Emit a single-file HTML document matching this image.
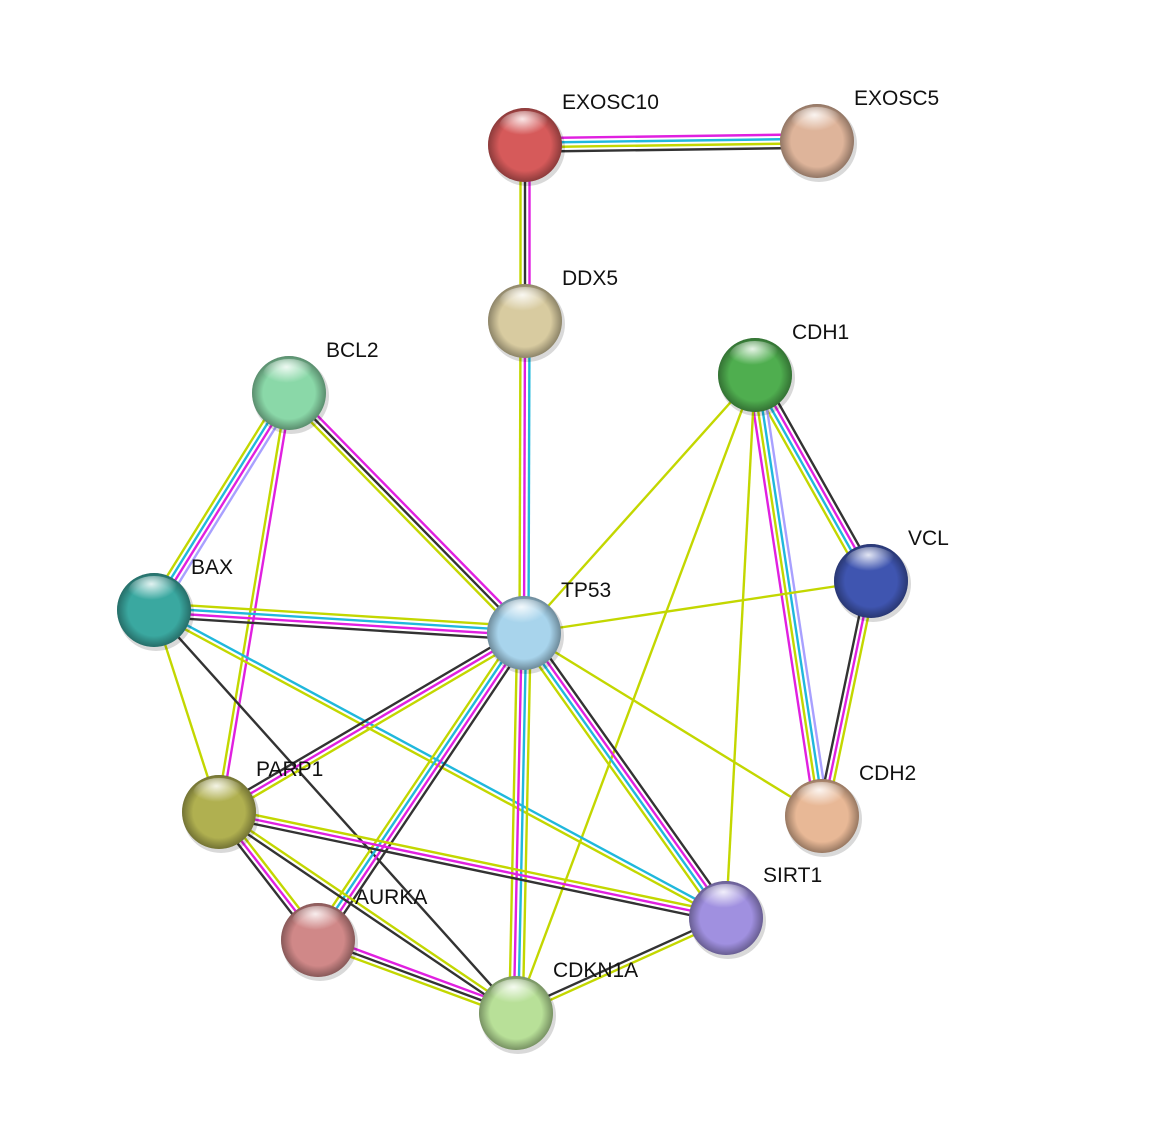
<!DOCTYPE html>
<html><head><meta charset="utf-8"><style>
html,body{margin:0;padding:0;background:#fff;width:1150px;height:1145px;overflow:hidden}
text{font-family:"Liberation Sans",sans-serif;font-size:21px;fill:#111}
</style></head><body>
<svg id="s" width="1150" height="1145" xmlns="http://www.w3.org/2000/svg">
<defs>
<radialGradient id="hl" cx="0.45" cy="0.25" r="0.5"><stop offset="0" stop-color="#fff" stop-opacity="0.85"/><stop offset="1" stop-color="#fff" stop-opacity="0"/></radialGradient>
<radialGradient id="sh" cx="0.5" cy="0.5" r="0.5"><stop offset="0.7" stop-color="#000" stop-opacity="0"/><stop offset="1" stop-color="#000" stop-opacity="0.35"/></radialGradient>
</defs>
<g id="e"></g><g id="n"></g>
</svg>
<script>
var N={EXOSC10:[525,145,'#d65a5a'],EXOSC5:[817,141,'#deb49a'],DDX5:[525,321,'#d8cba0'],BCL2:[289,393,'#8ad8a8'],CDH1:[755,375,'#4fae4f'],BAX:[154,610,'#3aa8a0'],TP53:[524,633,'#a8d4ec'],VCL:[871,581,'#3f55b0'],PARP1:[219,812,'#b0b050'],CDH2:[822,816,'#e8b896'],SIRT1:[726,918,'#a090e0'],AURKA:[318,940,'#d08888'],CDKN1A:[516,1013,'#b8e098']};
var L='#c3d700',M='#e020e0',C='#20b8dc',K='#333',P='#a8a0ff';
var E=[['EXOSC10','EXOSC5',[M,C,L,K]],['EXOSC10','DDX5',[M,K,L]],['DDX5','TP53',[C,M,L]],['BCL2','TP53',[M,K,L]],['BCL2','BAX',[P,M,C,L]],['BCL2','PARP1',[M,L]],['CDH1','TP53',[L]],['CDH1','VCL',[K,M,C,L]],['CDH1','CDH2',[P,C,L,M]],['CDH1','CDKN1A',[L]],['CDH1','SIRT1',[L]],['VCL','TP53',[L]],['VCL','CDH2',[L,M,K]],['BAX','TP53',[L,C,M,K]],['BAX','PARP1',[L]],['BAX','CDKN1A',[K]],['BAX','SIRT1',[C,L]],['TP53','PARP1',[L,M,K]],['TP53','AURKA',[K,M,C,L]],['TP53','CDKN1A',[L,C,M,L]],['TP53','SIRT1',[K,M,C,L]],['TP53','CDH2',[L]],['PARP1','SIRT1',[L,M,K]],['PARP1','AURKA',[L,M,K]],['PARP1','CDKN1A',[L,K]],['AURKA','CDKN1A',[M,K,L]],['SIRT1','CDKN1A',[L,K]]];
var ns='http://www.w3.org/2000/svg',ge=document.getElementById('e'),gn=document.getElementById('n');
function el(t,a,p){var x=document.createElementNS(ns,t);for(var k in a)x.setAttribute(k,a[k]);p.appendChild(x);return x;}
E.forEach(function(d){var a=N[d[0]],b=N[d[1]],dx=b[0]-a[0],dy=b[1]-a[1],l=Math.hypot(dx,dy),nx=-dy/l,ny=dx/l,c=d[2],s=4.5;
c.forEach(function(col,i){var o=(i-(c.length-1)/2)*s;el('line',{x1:a[0]+nx*o,y1:a[1]+ny*o,x2:b[0]+nx*o,y2:b[1]+ny*o,stroke:col,'stroke-width':2.4},ge);});});
for(var k in N){var p=N[k];
el('circle',{cx:p[0]+2,cy:p[1]+3,r:38,fill:'#000',opacity:0.15},gn);
el('circle',{cx:p[0],cy:p[1],r:37,fill:p[2]},gn);
el('circle',{cx:p[0],cy:p[1],r:37,fill:'url(#sh)'},gn);
el('ellipse',{cx:p[0],cy:p[1]-18,rx:26,ry:16,fill:'url(#hl)'},gn);
var t=el('text',{x:p[0]+37,y:p[1]-36},gn);t.textContent=k;}
</script>
</body></html>
